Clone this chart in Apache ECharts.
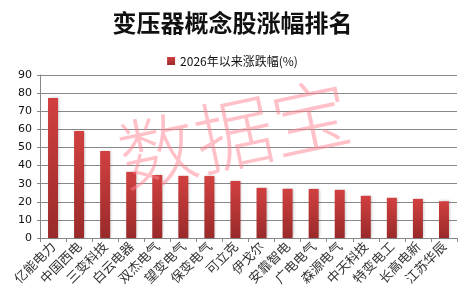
<!DOCTYPE html>
<html>
<head>
<meta charset="utf-8">
<script src="https://cdn.jsdelivr.net/npm/echarts@6/dist/echarts.min.js"></script>
<style>
  html, body { margin: 0; padding: 0; background: #fff; }
  #container { width: 465px; height: 301px; }
</style>
</head>
<body>
<div id="container"></div>
<script>
var stockNames = ['亿能电力', '中国西电', '三变科技', '白云电器', '双杰电气', '望变电气', '保变电气', '可立克',
    '伊戈尔', '安靠智电', '广电电气', '森源电气', '中天科技', '特变电工', '长高电新', '江苏华辰'];
var changePct = [77.3, 59.1, 48.1, 36.5, 34.8, 34.3, 34.2, 31.5,
    27.7, 27.2, 27.1, 26.6, 23.3, 22.2, 21.6, 20.3];
var yTicks = [0, 10, 20, 30, 40, 50, 60, 70, 80, 90];

var myChart = echarts.init(document.getElementById('container'), null, { renderer: 'canvas' });
myChart.setOption({
    animation: false,
    title: {
        text: '变压器概念股涨幅排名',
        left: 'center',
        top: 6,
        textStyle: {
            fontFamily: 'Noto Sans CJK SC',
            fontSize: 24,
            fontWeight: 'bold',
            color: '#111'
        }
    },
    legend: {
        top: 50,
        left: 'center',
        itemWidth: 8,
        itemHeight: 8,
        itemGap: 4,
        icon: 'rect',
        textStyle: {
            fontFamily: 'Noto Sans CJK SC',
            fontSize: 12,
            color: '#111'
        },
        data: ['2026年以来涨跌幅(%)']
    },
    // watermark
    graphic: [{
        type: 'text',
        x: 234,
        y: 134,
        rotation: 0.21,
        style: {
            text: '数据宝',
            fontFamily: 'Noto Sans CJK SC',
            fontSize: 78,
            fontWeight: 300,
            fill: 'rgba(255, 130, 145, 0.5)',
            align: 'center',
            verticalAlign: 'middle'
        },
        z: 100
    }],
    grid: {
        left: 40,
        right: 8,
        top: 75,
        bottom: 63,
        containLabel: false
    },
    xAxis: {
        type: 'category',
        data: stockNames,
        axisLine: { lineStyle: { color: '#888', width: 1 } },
        axisTick: { show: true, length: 4, lineStyle: { color: '#888' } },
        axisLabel: {
            rotate: 45,
            interval: 0,
            fontFamily: 'Noto Sans CJK SC',
            fontSize: 13,
            color: '#333',
            margin: 6
        }
    },
    yAxis: {
        type: 'value',
        min: yTicks[0],
        max: yTicks[yTicks.length - 1],
        interval: 10,
        axisLine: { show: true, lineStyle: { color: '#888', width: 1 } },
        axisTick: { show: true, length: 3, lineStyle: { color: '#888' } },
        splitLine: { show: true, lineStyle: { color: '#888', width: 1 } },
        axisLabel: {
            fontFamily: 'DejaVu Sans',
            fontSize: 11,
            color: '#111',
            margin: 8
        }
    },
    series: [{
        name: '2026年以来涨跌幅(%)',
        type: 'bar',
        barWidth: 10,
        data: changePct,
        itemStyle: {
            color: new echarts.graphic.LinearGradient(0, 0, 0, 1, [
                { offset: 0, color: '#d24040' },
                { offset: 1, color: '#992a2a' }
            ]),
            shadowColor: 'rgba(0,0,0,0.25)',
            shadowBlur: 3,
            shadowOffsetX: 1
        }
    }]
});
</script>
</body>
</html>
